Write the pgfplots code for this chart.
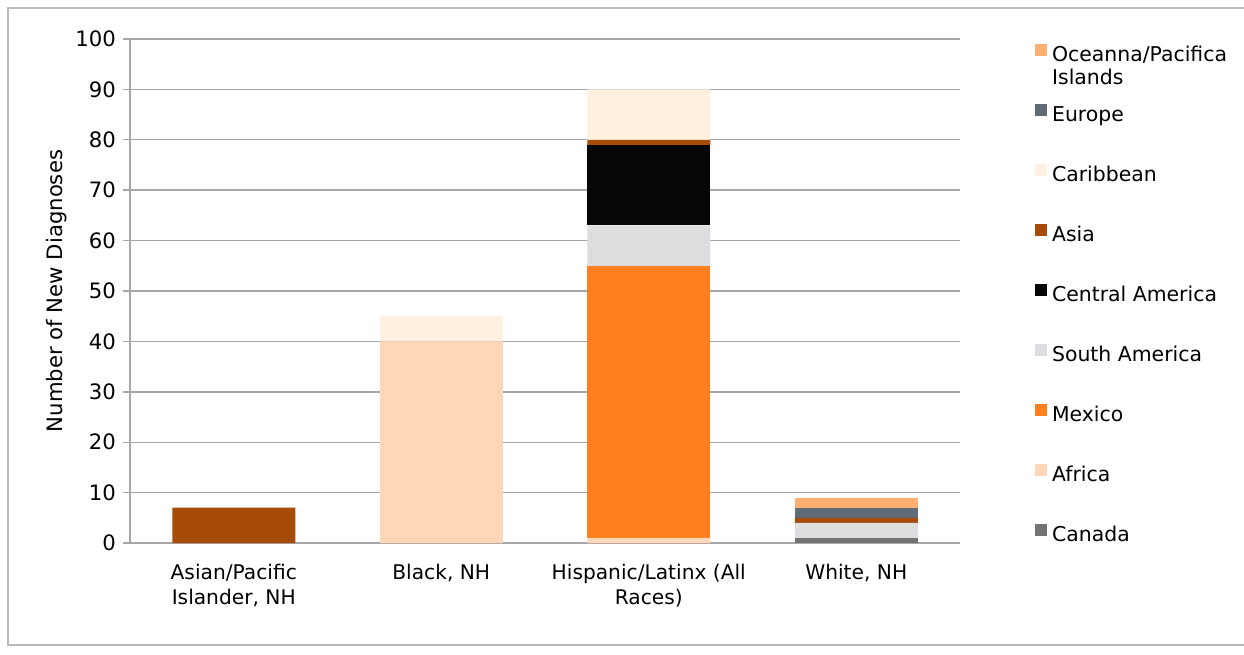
\documentclass[border=0pt]{standalone}
\usepackage{pgfplots}
\pgfplotsset{compat=1.18}
\usepackage{fontspec}
\setmainfont{DejaVu Sans}
\definecolor{cOce}{HTML}{FFB070}
\definecolor{cEur}{HTML}{5F6B77}
\definecolor{cCar}{HTML}{FFF0E0}
\definecolor{cAsi}{HTML}{A64B08}
\definecolor{cCen}{HTML}{060606}
\definecolor{cSou}{HTML}{DDDDDF}
\definecolor{cMex}{HTML}{FF7F1E}
\definecolor{cAfr}{HTML}{FFD6B8}
\definecolor{cCan}{HTML}{737373}
\definecolor{gridc}{HTML}{A6A6A6}
\begin{document}
\begin{tikzpicture}[x=1bp,y=1bp]
\useasboundingbox (0,0) rectangle (622,327);
\draw[gray!55, line width=0.7bp] (4,4.5) rectangle (640,323);
\begin{axis}[
  at={(65bp,55.5bp)}, anchor=south west,
  scale only axis, width=415bp, height=252bp,
  ybar stacked, bar width=61.5bp,
  legend image code/.code={\fill[#1] (0bp,0bp) rectangle (6bp,6bp);},
  xmin=-0.5, xmax=3.5, ymin=0, ymax=100,
  axis x line*=bottom, axis y line*=left,
  axis line style={gridc, line width=0.7bp},
  xtick={0,1,2,3},
  xticklabels={{Asian/Pacific\\Islander, NH},{Black, NH},{Hispanic/Latinx (All\\Races)},{White, NH}},
  major x tick style={draw=none},
  extra x ticks={-0.5,0.5,1.5,2.5,3.5},
  extra x tick labels={},
  extra x tick style={tick style={gridc, line width=0.7bp}, major tick length=4bp, tick align=outside},
  xticklabel style={align=center, font=\fontsize{10.1bp}{12.5bp}\selectfont, yshift=-3.5bp},
  ytick={0,10,...,100},
  ymajorgrids, grid style={gridc, line width=0.7bp},
  y tick style={gridc, line width=0.7bp},
  tick align=outside, major tick length=3.5bp,
  yticklabel style={font=\fontsize{10.6bp}{12bp}\selectfont},
  /pgf/number format/assume math mode=true,
  ylabel={Number of New Diagnoses},
  ylabel style={at={(axis description cs:-0.088,0.5)}, anchor=center, font=\fontsize{10.6bp}{12bp}\selectfont},
  reverse legend,
  legend style={at={(1.09,0.99)}, anchor=north west, draw=none, fill=none,
    inner sep=0pt, column sep=2.5bp, row sep=19.5bp,
    nodes={inner sep=0pt, text height=7bp, text depth=2bp, font=\fontsize{10.2bp}{11.5bp}\selectfont}},
  legend cell align=left,
]
\addplot[fill=cCan, draw=none] coordinates {(0,0) (1,0) (2,0) (3,1)};
\addlegendentry{Canada}
\addplot[fill=cAfr, draw=none] coordinates {(0,0) (1,40) (2,1) (3,0)};
\addlegendentry{Africa}
\addplot[fill=cMex, draw=none] coordinates {(0,0) (1,0) (2,54) (3,0)};
\addlegendentry{Mexico}
\addplot[fill=cSou, draw=none] coordinates {(0,0) (1,0) (2,8) (3,3)};
\addlegendentry{South America}
\addplot[fill=cCen, draw=none] coordinates {(0,0) (1,0) (2,16) (3,0)};
\addlegendentry{Central America}
\addplot[fill=cAsi, draw=none] coordinates {(0,7) (1,0) (2,1) (3,1)};
\addlegendentry{Asia}
\addplot[fill=cCar, draw=none] coordinates {(0,0) (1,5) (2,10) (3,0)};
\addlegendentry{Caribbean}
\addplot[fill=cEur, draw=none] coordinates {(0,0) (1,0) (2,0) (3,2)};
\addlegendentry{Europe}
\addplot[fill=cOce, draw=none] coordinates {(0,0) (1,0) (2,0) (3,2)};
\addlegendentry{\makebox[0pt][l]{\smash{\begin{tabular}[t]{@{}l@{}}Oceanna/Pacifica\\Islands\end{tabular}}}\phantom{Oceanna/Pacifica}}
\end{axis}
\end{tikzpicture}
\end{document}
